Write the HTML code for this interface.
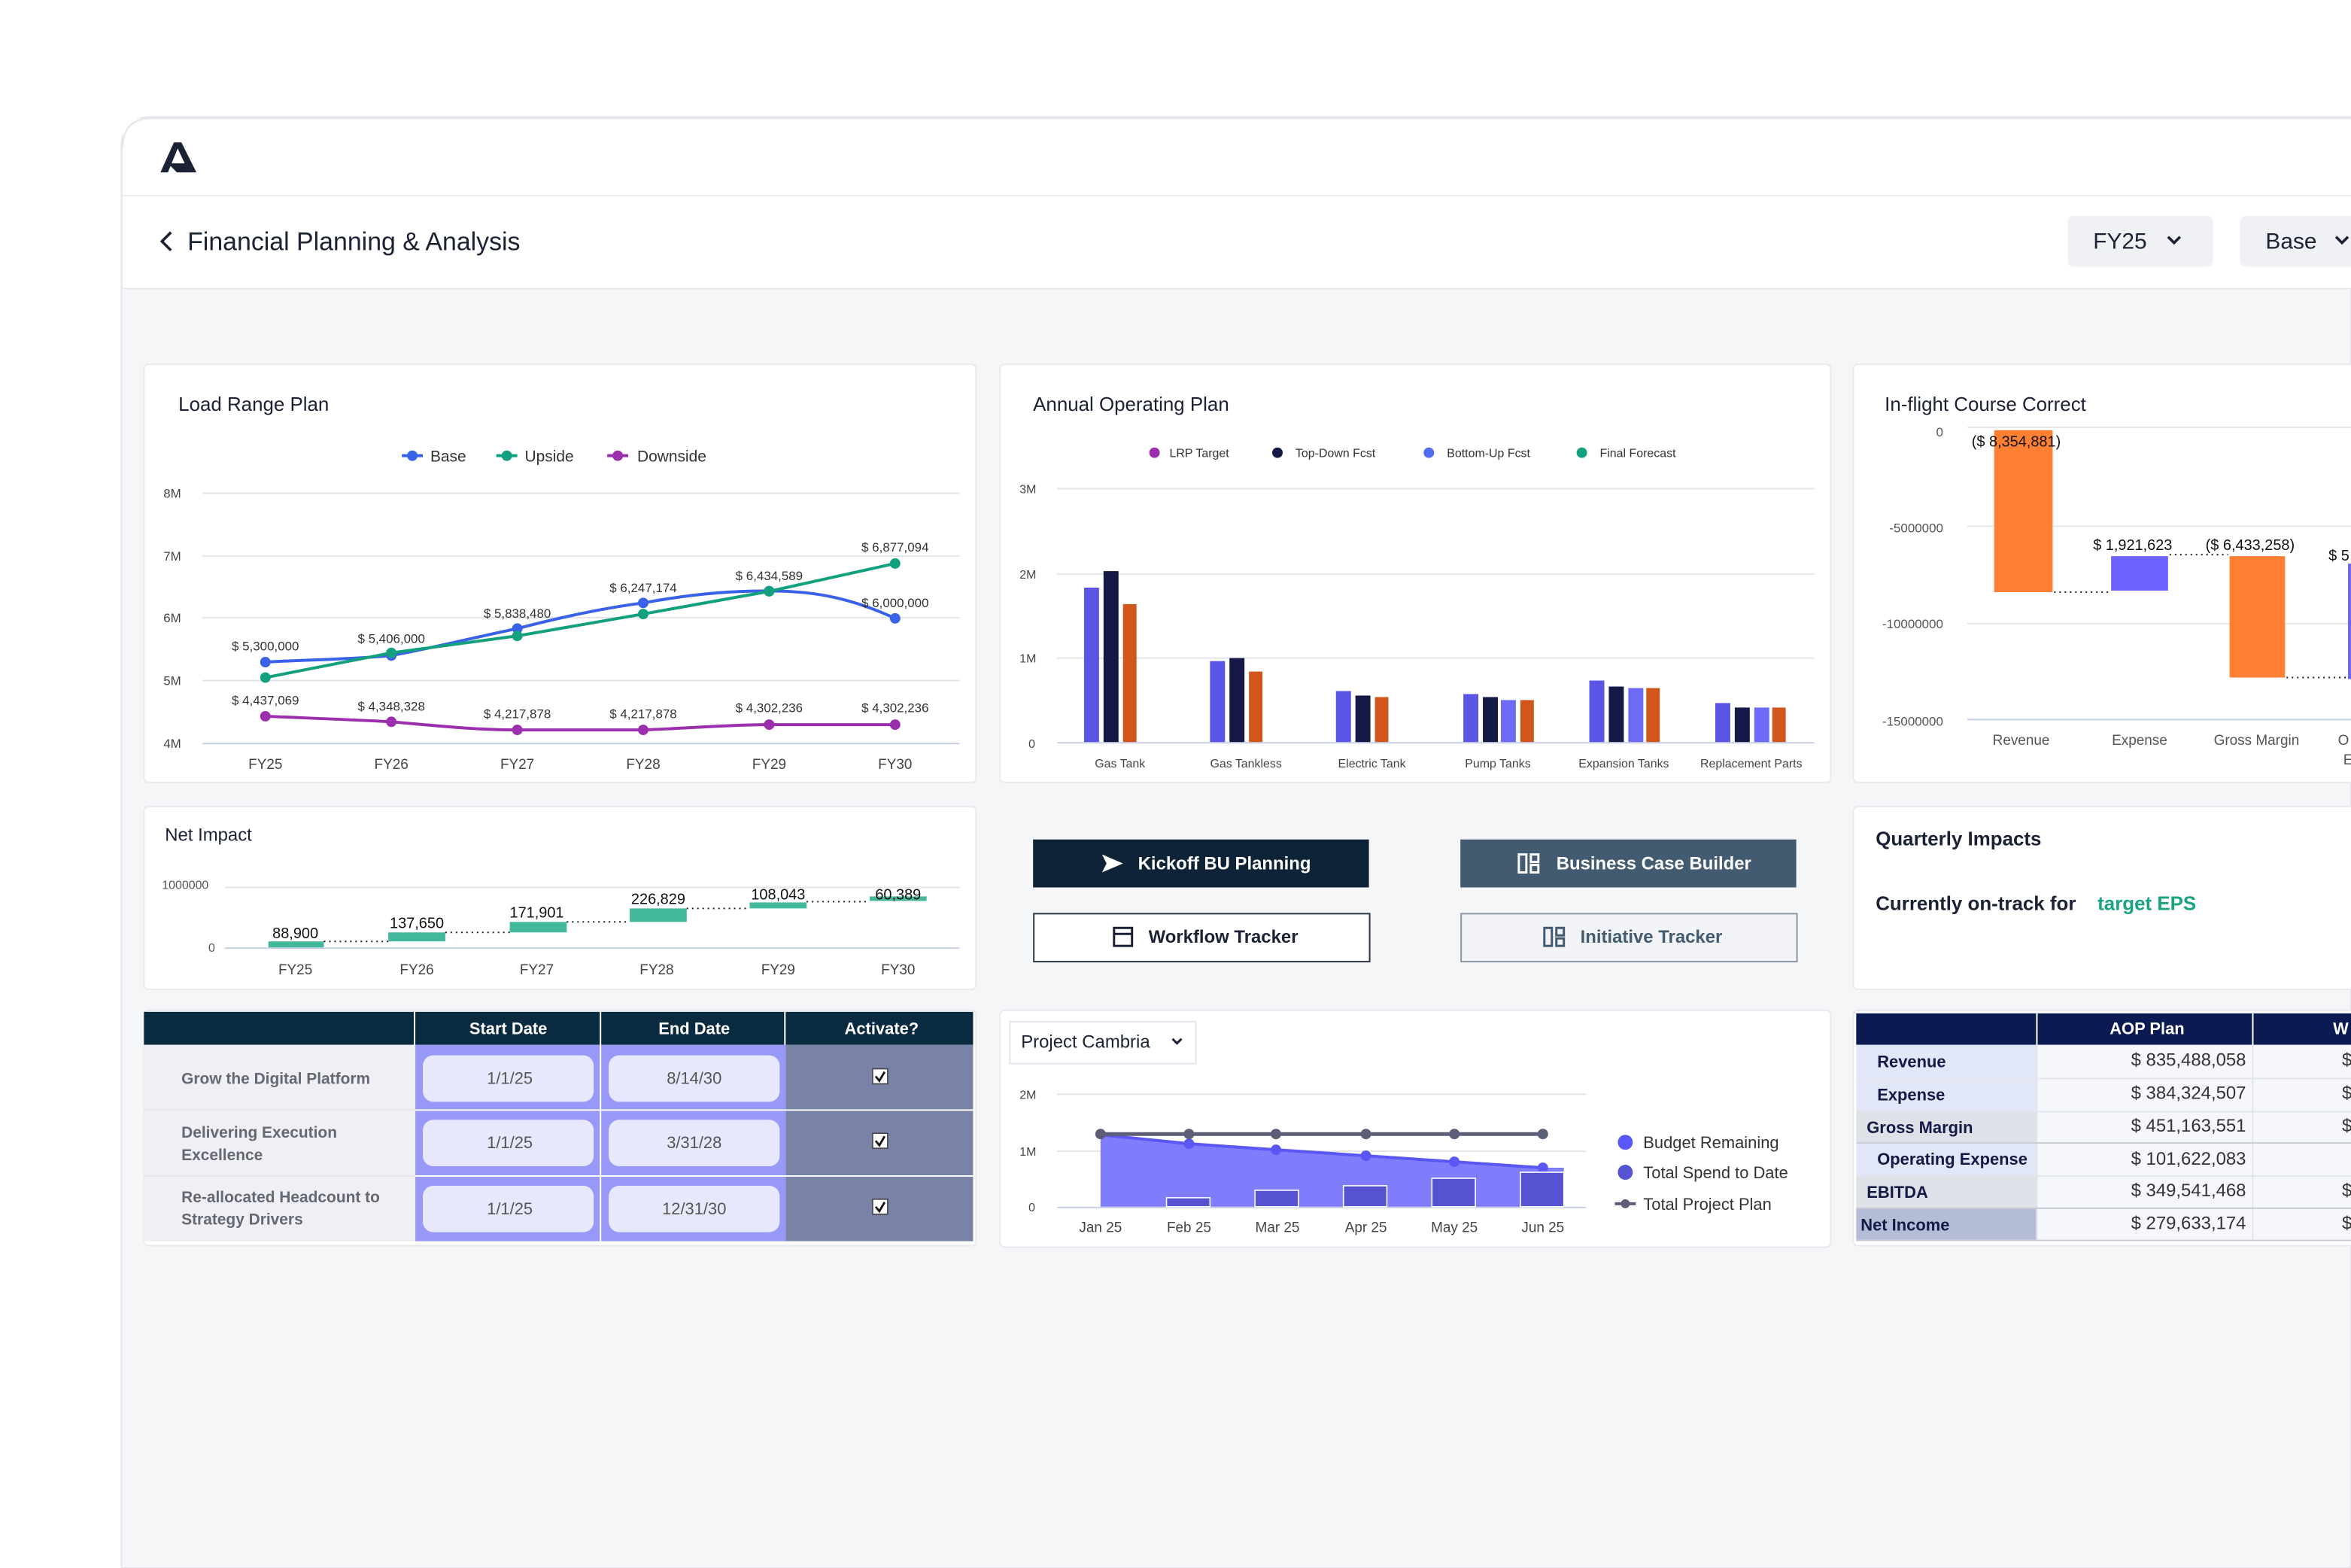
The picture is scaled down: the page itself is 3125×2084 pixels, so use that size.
<!DOCTYPE html>
<html><head><meta charset="utf-8"><style>
html,body{margin:0;padding:0;background:#fff;}
svg{display:block;}
text{font-family:"Liberation Sans",sans-serif;}
</style></head><body>
<svg width="3125" height="2084" viewBox="0 0 1568 1046" preserveAspectRatio="none" xmlns="http://www.w3.org/2000/svg">
<rect x="0" y="0" width="1568" height="1046" fill="#fff"/>
<!-- app frame -->
<path d="M81,1046 V98 Q81,78 101,78 H1568 V1046 Z" fill="#f5f6f8" stroke="#e3e5ea" stroke-width="1"/>
<rect x="82" y="79" width="1486" height="113" fill="#fff"/>
<path d="M82,98 Q82,79 101,79 H1568" fill="none" stroke="#e3e5ea"/>
<line x1="82" y1="130.5" x2="1568" y2="130.5" stroke="#eceef2"/>
<line x1="82" y1="192.5" x2="1568" y2="192.5" stroke="#e6e8ec"/>
<!-- logo -->
<path d="M107,115 L116,95 L121,95 L131,115 L126,115 L118.5,99 L112,115 Z" fill="#1b2233"/>
<path d="M112,109 L124,109 L126,115 L118,115 Z" fill="#1b2233"/>
<!-- breadcrumb -->
<path d="M114,155 L108,161 L114,167" fill="none" stroke="#1b2233" stroke-width="1.8"/>
<text x="125" y="167" font-size="17" fill="#1b2233">Financial Planning &amp; Analysis</text>
<rect x="1379" y="144" width="97" height="34" rx="4" fill="#f0f1f4"/>
<text x="1396" y="166" font-size="15" fill="#1b2233">FY25</text>
<path d="M1446,158 L1450,162 L1454,158" fill="none" stroke="#1b2233" stroke-width="1.8"/>
<rect x="1494" y="144" width="90" height="34" rx="4" fill="#f0f1f4"/>
<text x="1511" y="166" font-size="15" fill="#1b2233">Base</text>
<path d="M1558,158 L1562,162 L1566,158" fill="none" stroke="#1b2233" stroke-width="1.8"/>

<!-- cards -->
<g fill="#fff" stroke="#e8eaee">
<rect x="96" y="243" width="555" height="279" rx="3"/>
<rect x="667" y="243" width="554" height="279" rx="3"/>
<rect x="1236" y="243" width="340" height="279" rx="3"/>
<rect x="96" y="538" width="555" height="122" rx="3"/>
<rect x="1236" y="538" width="340" height="122" rx="3"/>
<rect x="96" y="674" width="555" height="157" rx="3"/>
<rect x="667" y="674" width="554" height="158" rx="3"/>
<rect x="1236" y="674" width="340" height="157" rx="3"/>
</g>

<!-- Load Range Plan -->
<text x="119" y="274" font-size="13" fill="#1b2233">Load Range Plan</text>
<g font-size="10.5" fill="#333">
<line x1="268" y1="304" x2="282" y2="304" stroke="#3a62e8" stroke-width="2"/><circle cx="275" cy="304" r="3.5" fill="#3a62e8"/><text x="287" y="308">Base</text>
<line x1="331" y1="304" x2="345" y2="304" stroke="#12a07e" stroke-width="2"/><circle cx="338" cy="304" r="3.5" fill="#12a07e"/><text x="350" y="308">Upside</text>
<line x1="405" y1="304" x2="419" y2="304" stroke="#9b2fae" stroke-width="2"/><circle cx="412" cy="304" r="3.5" fill="#9b2fae"/><text x="425" y="308">Downside</text>
</g>
<g stroke="#e4e5e8" stroke-width="1">
<line x1="135" y1="329" x2="640" y2="329"/><line x1="135" y1="371" x2="640" y2="371"/><line x1="135" y1="412" x2="640" y2="412"/><line x1="135" y1="454" x2="640" y2="454"/>
</g>
<line x1="135" y1="496" x2="640" y2="496" stroke="#c8d0e6"/>
<g font-size="8.5" fill="#444">
<text x="109" y="332">8M</text><text x="109" y="374">7M</text><text x="109" y="415">6M</text><text x="109" y="457">5M</text><text x="109" y="499">4M</text>
</g>
<g font-size="9.5" fill="#444" text-anchor="middle">
<text x="177" y="513">FY25</text><text x="261" y="513">FY26</text><text x="345" y="513">FY27</text><text x="429" y="513">FY28</text><text x="513" y="513">FY29</text><text x="597" y="513">FY30</text>
</g>
<path d="M177,441.7 C205,440 233,440 261,437.3 C290,432 317,425 345,419.3 C373,412 400,406 429,402.2 C457,397 485,394 513,394.3 C545,394 570,400 597,412.5" fill="none" stroke="#3a62e8" stroke-width="2"/>
<path d="M177,452 L261,435.5 L345,424.2 L429,409.6 L513,394.5 L597,375.9" fill="none" stroke="#12a07e" stroke-width="2"/>
<path d="M177,477.8 C205,479 233,480 261,481.5 C290,484 317,487 345,486.9 L429,486.9 C457,486 485,483.4 513,483.4 L597,483.4" fill="none" stroke="#9b2fae" stroke-width="2"/>
<g fill="#3a62e8"><circle cx="177" cy="441.7" r="3.5"/><circle cx="261" cy="437.3" r="3.5"/><circle cx="345" cy="419.3" r="3.5"/><circle cx="429" cy="402.2" r="3.5"/><circle cx="513" cy="394.3" r="3.5"/><circle cx="597" cy="412.5" r="3.5"/></g>
<g fill="#12a07e"><circle cx="177" cy="452" r="3.5"/><circle cx="261" cy="435.5" r="3.5"/><circle cx="345" cy="424.2" r="3.5"/><circle cx="429" cy="409.6" r="3.5"/><circle cx="513" cy="394.5" r="3.5"/><circle cx="597" cy="375.9" r="3.5"/></g>
<g fill="#9b2fae"><circle cx="177" cy="477.8" r="3.5"/><circle cx="261" cy="481.5" r="3.5"/><circle cx="345" cy="486.9" r="3.5"/><circle cx="429" cy="486.9" r="3.5"/><circle cx="513" cy="483.4" r="3.5"/><circle cx="597" cy="483.4" r="3.5"/></g>
<g font-size="8.5" fill="#333" text-anchor="middle">
<text x="177" y="434">$ 5,300,000</text><text x="261" y="429">$ 5,406,000</text><text x="345" y="412">$ 5,838,480</text><text x="429" y="395">$ 6,247,174</text><text x="513" y="387">$ 6,434,589</text><text x="597" y="368">$ 6,877,094</text><text x="597" y="405">$ 6,000,000</text>
<text x="177" y="470">$ 4,437,069</text><text x="261" y="474">$ 4,348,328</text><text x="345" y="479">$ 4,217,878</text><text x="429" y="479">$ 4,217,878</text><text x="513" y="475">$ 4,302,236</text><text x="597" y="475">$ 4,302,236</text>
</g>

<!-- Annual Operating Plan -->
<text x="689" y="274" font-size="13" fill="#1b2233">Annual Operating Plan</text>
<g font-size="8" fill="#333">
<circle cx="770" cy="302" r="3.5" fill="#9b2fae"/><text x="780" y="305">LRP Target</text>
<circle cx="852" cy="302" r="3.5" fill="#141a45"/><text x="864" y="305">Top-Down Fcst</text>
<circle cx="953" cy="302" r="3.5" fill="#4f6ef0"/><text x="965" y="305">Bottom-Up Fcst</text>
<circle cx="1055" cy="302" r="3.5" fill="#12a07e"/><text x="1067" y="305">Final Forecast</text>
</g>
<g stroke="#e4e5e8"><line x1="705" y1="326" x2="1210" y2="326"/><line x1="705" y1="383" x2="1210" y2="383"/><line x1="705" y1="439" x2="1210" y2="439"/></g>
<line x1="705" y1="495.5" x2="1210" y2="495.5" stroke="#c8d0e6"/>
<g font-size="8" fill="#444"><text x="680" y="329">3M</text><text x="680" y="386">2M</text><text x="680" y="442">1M</text><text x="686" y="499">0</text></g>
<g font-size="8" fill="#444" text-anchor="middle">
<text x="747" y="512">Gas Tank</text><text x="831" y="512">Gas Tankless</text><text x="915" y="512">Electric Tank</text><text x="999" y="512">Pump Tanks</text><text x="1083" y="512">Expansion Tanks</text><text x="1168" y="512">Replacement Parts</text>
</g>
<g>
<rect x="723" y="392" width="10" height="103" fill="#5b55e6"/><rect x="736" y="381" width="10" height="114" fill="#141a45"/><rect x="749" y="403" width="9" height="92" fill="#d0561b"/>
<rect x="807" y="441" width="10" height="54" fill="#5b55e6"/><rect x="820" y="439" width="10" height="56" fill="#141a45"/><rect x="833" y="448" width="9" height="47" fill="#d0561b"/>
<rect x="891" y="461" width="10" height="34" fill="#5b55e6"/><rect x="904" y="464" width="10" height="31" fill="#141a45"/><rect x="917" y="465" width="9" height="30" fill="#d0561b"/>
<rect x="976" y="463" width="10" height="32" fill="#5b55e6"/><rect x="989" y="465" width="10" height="30" fill="#141a45"/><rect x="1001" y="467" width="10" height="28" fill="#6d6af5"/><rect x="1014" y="467" width="9" height="28" fill="#d0561b"/>
<rect x="1060" y="454" width="10" height="41" fill="#5b55e6"/><rect x="1073" y="458" width="10" height="37" fill="#141a45"/><rect x="1086" y="459" width="10" height="36" fill="#6d6af5"/><rect x="1098" y="459" width="9" height="36" fill="#d0561b"/>
<rect x="1144" y="469" width="10" height="26" fill="#5b55e6"/><rect x="1157" y="472" width="10" height="23" fill="#141a45"/><rect x="1170" y="472" width="10" height="23" fill="#6d6af5"/><rect x="1182" y="472" width="9" height="23" fill="#d0561b"/>
</g>

<!-- In-flight Course Correct -->
<text x="1257" y="274" font-size="13" fill="#1b2233">In-flight Course Correct</text>
<g stroke="#e4e5e8"><line x1="1312" y1="285" x2="1568" y2="285"/><line x1="1312" y1="351" x2="1568" y2="351"/><line x1="1312" y1="416" x2="1568" y2="416"/></g>
<line x1="1312" y1="480" x2="1568" y2="480" stroke="#c8d0e6"/>
<g font-size="8.5" fill="#555" text-anchor="end"><text x="1296" y="291">0</text><text x="1296" y="355">-5000000</text><text x="1296" y="419">-10000000</text><text x="1296" y="484">-15000000</text></g>
<rect x="1330" y="287" width="39" height="108" fill="#ff8033"/>
<rect x="1408" y="371" width="38" height="23" fill="#6c63ff"/>
<rect x="1487" y="371" width="37" height="81" fill="#ff8033"/>
<rect x="1566" y="376" width="4" height="77" fill="#6c63ff"/>
<g stroke="#222" stroke-dasharray="1,2.5"><line x1="1370" y1="395" x2="1407" y2="395"/><line x1="1447" y1="370" x2="1486" y2="370"/><line x1="1525" y1="452" x2="1566" y2="452"/></g>
<g font-size="10" fill="#111"><text x="1315" y="298">($ 8,354,881)</text><text x="1396" y="367">$ 1,921,623</text><text x="1471" y="367">($ 6,433,258)</text><text x="1553" y="374">$ 5</text></g>
<g font-size="9.5" fill="#555" text-anchor="middle"><text x="1348" y="497">Revenue</text><text x="1427" y="497">Expense</text><text x="1505" y="497">Gross Margin</text><text x="1563" y="497">O</text><text x="1566" y="510">E</text></g>

<!-- Net Impact -->
<text x="110" y="561" font-size="12" fill="#1b2233">Net Impact</text>
<line x1="150" y1="592" x2="640" y2="592" stroke="#e4e5e8"/>
<line x1="150" y1="632.5" x2="640" y2="632.5" stroke="#c8d0e6"/>
<g font-size="8" fill="#555"><text x="108" y="593">1000000</text><text x="139" y="635">0</text></g>
<g fill="#43b89a">
<rect x="179" y="628" width="37" height="4"/><rect x="259" y="622" width="38" height="6"/><rect x="340" y="615" width="38" height="7"/><rect x="420" y="606" width="38" height="9"/><rect x="500" y="602" width="38" height="4"/><rect x="580" y="598" width="38" height="3"/>
</g>
<g stroke="#222" stroke-dasharray="1,2.5"><line x1="216" y1="628" x2="259" y2="628"/><line x1="297" y1="622" x2="340" y2="622"/><line x1="378" y1="615" x2="420" y2="615"/><line x1="458" y1="606" x2="500" y2="606"/><line x1="538" y1="601.5" x2="580" y2="601.5"/></g>
<g font-size="10" fill="#111" text-anchor="middle"><text x="197" y="626">88,900</text><text x="278" y="619">137,650</text><text x="358" y="612">171,901</text><text x="439" y="603">226,829</text><text x="519" y="600">108,043</text><text x="599" y="600">60,389</text></g>
<g font-size="9.5" fill="#444" text-anchor="middle"><text x="197" y="650">FY25</text><text x="278" y="650">FY26</text><text x="358" y="650">FY27</text><text x="438" y="650">FY28</text><text x="519" y="650">FY29</text><text x="599" y="650">FY30</text></g>

<!-- Buttons -->
<rect x="689" y="560" width="224" height="32" fill="#0e2238"/>
<path d="M735,570 L749,576 L735,582 L738,576 Z" fill="#fff"/>
<text x="759" y="580" font-size="12" font-weight="bold" fill="#fff">Kickoff BU Planning</text>
<rect x="974" y="560" width="224" height="32" fill="#435b70"/>
<g fill="none" stroke="#fff" stroke-width="1.5"><rect x="1013" y="570" width="5" height="12"/><rect x="1021" y="570" width="5" height="5"/><rect x="1021" y="577" width="5" height="5"/></g>
<text x="1038" y="580" font-size="12" font-weight="bold" fill="#fff">Business Case Builder</text>
<rect x="689.5" y="609.5" width="224" height="32" fill="#fff" stroke="#2c3744"/>
<g fill="none" stroke="#1b2233" stroke-width="1.5"><rect x="743" y="619" width="12" height="12"/><line x1="743" y1="623" x2="755" y2="623"/></g>
<text x="766" y="629" font-size="12" font-weight="bold" fill="#1b2233">Workflow Tracker</text>
<rect x="974.5" y="609.5" width="224" height="32" fill="#f1f3f6" stroke="#8a96a3"/>
<g fill="none" stroke="#435b70" stroke-width="1.5"><rect x="1030" y="619" width="5" height="12"/><rect x="1038" y="619" width="5" height="5"/><rect x="1038" y="626" width="5" height="5"/></g>
<text x="1054" y="629" font-size="12" font-weight="bold" fill="#435b70">Initiative Tracker</text>

<!-- Quarterly Impacts -->
<text x="1251" y="564" font-size="13" font-weight="bold" fill="#1b2233">Quarterly Impacts</text>
<text x="1251" y="607" font-size="13" font-weight="bold" fill="#1b2233">Currently on-track for</text>
<text x="1399" y="607" font-size="13" font-weight="bold" fill="#1aa383">target EPS</text>

<!-- Left table -->
<rect x="96" y="675" width="553" height="22" fill="#0a2a40"/>
<g stroke="#fff" stroke-width="1"><line x1="276.5" y1="675" x2="276.5" y2="697"/><line x1="400.5" y1="675" x2="400.5" y2="697"/><line x1="523.5" y1="675" x2="523.5" y2="697"/></g>
<g font-size="11" font-weight="bold" fill="#fff" text-anchor="middle"><text x="339" y="690">Start Date</text><text x="463" y="690">End Date</text><text x="588" y="690">Activate?</text></g>
<rect x="96" y="697" width="181" height="131" fill="#efeff4"/>
<rect x="277" y="697" width="247" height="131" fill="#9898f8"/>
<rect x="524" y="697" width="125" height="131" fill="#7983a8"/>
<g stroke="#fff"><line x1="400.5" y1="697" x2="400.5" y2="828"/><line x1="277" y1="740.5" x2="649" y2="740.5"/><line x1="277" y1="784.5" x2="649" y2="784.5"/></g>
<g stroke="#e4e4ea"><line x1="96" y1="740.5" x2="277" y2="740.5"/><line x1="96" y1="784.5" x2="277" y2="784.5"/></g>
<g fill="#e8e8fd">
<rect x="282" y="704" width="114" height="31" rx="7"/><rect x="406" y="704" width="114" height="31" rx="7"/>
<rect x="282" y="747" width="114" height="31" rx="7"/><rect x="406" y="747" width="114" height="31" rx="7"/>
<rect x="282" y="791" width="114" height="31" rx="7"/><rect x="406" y="791" width="114" height="31" rx="7"/>
</g>
<g font-size="11" fill="#555" text-anchor="middle">
<text x="340" y="723">1/1/25</text><text x="463" y="723">8/14/30</text>
<text x="340" y="766">1/1/25</text><text x="463" y="766">3/31/28</text>
<text x="340" y="810">1/1/25</text><text x="463" y="810">12/31/30</text>
</g>
<g font-size="10.5" font-weight="bold" fill="#636873">
<text x="121" y="723">Grow the Digital Platform</text>
<text x="121" y="759">Delivering Execution</text><text x="121" y="774">Excellence</text>
<text x="121" y="802">Re-allocated Headcount to</text><text x="121" y="817">Strategy Drivers</text>
</g>
<g fill="#fff" stroke="#444" stroke-width="0.8">
<rect x="582" y="713" width="10" height="10"/><rect x="582" y="756" width="10" height="10"/><rect x="582" y="800" width="10" height="10"/>
</g>
<g fill="none" stroke="#111" stroke-width="1.4">
<path d="M584,718 L586.5,721 L590,715"/><path d="M584,761 L586.5,764 L590,758"/><path d="M584,805 L586.5,808 L590,802"/>
</g>

<!-- Project Cambria -->
<rect x="673.5" y="681.5" width="124" height="28" fill="#fff" stroke="#e2e4ee"/>
<text x="681" y="699" font-size="12" fill="#1b2233">Project Cambria</text>
<path d="M782,693 L785,696 L788,693" fill="none" stroke="#1b2233" stroke-width="1.5"/>
<g stroke="#e4e5e8"><line x1="705" y1="730" x2="1058" y2="730"/><line x1="705" y1="768" x2="1058" y2="768"/></g>
<g font-size="8" fill="#444"><text x="680" y="733">2M</text><text x="680" y="771">1M</text><text x="686" y="808">0</text></g>
<path d="M734,757 L793,763 L851,767 L911,771 L970,775 L1029,779 L1043,779 L1043,805 L734,805 Z" fill="#7f7dfb"/>
<line x1="705" y1="805.5" x2="1058" y2="805.5" stroke="#c8d0e6"/>
<path d="M734,757 L793,763 L851,767 L911,771 L970,775 L1029,779" fill="none" stroke="#5a57f5" stroke-width="2"/>
<g fill="#5a57f5"><circle cx="793" cy="763" r="3.5"/><circle cx="851" cy="767" r="3.5"/><circle cx="911" cy="771" r="3.5"/><circle cx="970" cy="775" r="3.5"/><circle cx="1029" cy="779" r="3.5"/></g>
<g fill="#5553d0" stroke="#fff" stroke-width="0.8">
<rect x="778" y="799" width="29" height="6"/><rect x="837" y="794" width="29" height="11"/><rect x="896" y="791" width="29" height="14"/><rect x="955" y="786" width="29" height="19"/><rect x="1014" y="782" width="29" height="23"/>
</g>
<line x1="734" y1="756.5" x2="1029" y2="756.5" stroke="#5c5e78" stroke-width="2.5"/>
<g fill="#5c5e78"><circle cx="734" cy="756.5" r="3.5"/><circle cx="793" cy="756.5" r="3.5"/><circle cx="851" cy="756.5" r="3.5"/><circle cx="911" cy="756.5" r="3.5"/><circle cx="970" cy="756.5" r="3.5"/><circle cx="1029" cy="756.5" r="3.5"/></g>
<g font-size="9.5" fill="#444" text-anchor="middle"><text x="734" y="822">Jan 25</text><text x="793" y="822">Feb 25</text><text x="852" y="822">Mar 25</text><text x="911" y="822">Apr 25</text><text x="970" y="822">May 25</text><text x="1029" y="822">Jun 25</text></g>
<g font-size="11" fill="#333">
<circle cx="1084" cy="762" r="5" fill="#5a57fb"/><text x="1096" y="766">Budget Remaining</text>
<circle cx="1084" cy="782" r="5" fill="#5553d0"/><text x="1096" y="786">Total Spend to Date</text>
<line x1="1077" y1="803" x2="1091" y2="803" stroke="#5c5e78" stroke-width="2"/><circle cx="1084" cy="803" r="3" fill="#5c5e78"/><text x="1096" y="807">Total Project Plan</text>
</g>

<!-- AOP table -->
<rect x="1238" y="676" width="330" height="21" fill="#0b1a52"/>
<g stroke="#fff"><line x1="1358.5" y1="676" x2="1358.5" y2="697"/><line x1="1502.5" y1="676" x2="1502.5" y2="697"/></g>
<text x="1432" y="690" font-size="11" font-weight="bold" fill="#fff" text-anchor="middle">AOP Plan</text>
<text x="1556" y="690" font-size="11" font-weight="bold" fill="#fff">W</text>
<rect x="1359" y="697" width="209" height="131" fill="#f6f7fb"/>
<rect x="1238" y="697" width="120" height="44" fill="#e1e7f7"/>
<rect x="1238" y="741" width="120" height="22" fill="#dfe1e9"/>
<rect x="1238" y="763" width="120" height="22" fill="#e1e7f7"/>
<rect x="1238" y="785" width="120" height="21" fill="#dfe1e9"/>
<rect x="1238" y="806" width="120" height="21" fill="#b4bcd6"/>
<g stroke="#e2e5ee"><line x1="1238" y1="719.5" x2="1568" y2="719.5"/><line x1="1359" y1="741.5" x2="1568" y2="741.5"/><line x1="1238" y1="784.5" x2="1568" y2="784.5"/><line x1="1358.5" y1="697" x2="1358.5" y2="828"/><line x1="1502.5" y1="697" x2="1502.5" y2="828"/></g>
<g stroke="#c8cbd6"><line x1="1238" y1="762.5" x2="1568" y2="762.5"/><line x1="1238" y1="806" x2="1568" y2="806"/><line x1="1238" y1="827.5" x2="1568" y2="827.5"/></g>
<g font-size="11" font-weight="bold" fill="#141a45">
<text x="1252" y="712">Revenue</text><text x="1252" y="734">Expense</text><text x="1245" y="756">Gross Margin</text><text x="1252" y="777">Operating Expense</text><text x="1245" y="799">EBITDA</text><text x="1241" y="821">Net Income</text>
</g>
<g font-size="12" fill="#333" text-anchor="end">
<text x="1498" y="711">$ 835,488,058</text><text x="1498" y="733">$ 384,324,507</text><text x="1498" y="755">$ 451,163,551</text><text x="1498" y="777">$ 101,622,083</text><text x="1498" y="798">$ 349,541,468</text><text x="1498" y="820">$ 279,633,174</text>
</g>
<g font-size="12" fill="#333"><text x="1562" y="711">$</text><text x="1562" y="733">$</text><text x="1562" y="755">$</text><text x="1562" y="798">$</text><text x="1562" y="820">$</text></g>
</svg>
</body></html>
